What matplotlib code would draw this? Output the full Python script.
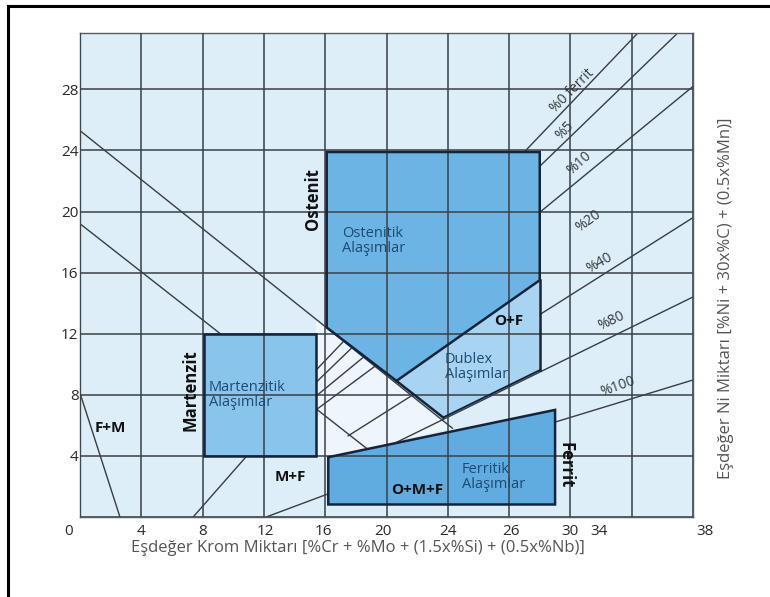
import matplotlib
matplotlib.use("Agg")
import matplotlib.pyplot as plt
from matplotlib.patches import Polygon
from matplotlib.lines import Line2D
import matplotlib.transforms as mtransforms

plt.rcParams['font.family'] = ['Open Sans', 'DejaVu Sans']

# ---------------- data ----------------
x_tick_labels = ["0", "4", "8", "12", "16", "20", "24", "26", "30", "34", "38"]
x_tick_values = [-0.75, 4.0, 8.0, 12.1, 15.9, 19.8, 24.0, 28.1, 32.0, 33.9, 40.8]
y_tick_values = [0, 4, 8, 12, 16, 20, 24, 28]
y_tick_labels = ["", "4", "8", "12", "16", "20", "24", "28"]

# regions (Cr eq, Ni eq)
austenite_x = [16.1, 30.0, 30.0, 20.65, 16.1]
austenite_y = [23.9, 23.9, 15.5, 8.9, 12.4]
duplex_x = [20.65, 30.0, 30.0, 23.7]
duplex_y = [8.9, 15.5, 9.6, 6.5]
martensite_x = [8.1, 15.4, 15.4, 8.1]
martensite_y = [4.0, 4.0, 12.0, 12.0]
ferrite_x = [16.2, 31.0, 31.0, 16.2]
ferrite_y = [0.8, 0.8, 7.0, 3.9]
mixed_x = [15.4, 24.3, 16.2, 15.4]
mixed_y = [12.9, 5.8, 3.9, 3.9]

# boundary lines
boundary_lines = {
    "a": ([0.0, 24.3], [25.3, 5.8]),
    "b": ([0.0, 18.8], [19.2, 4.4]),
    "c": ([0.0, 2.6], [8.1, 0.0]),
    "d": ([7.4, 10.9], [0.0, 4.0]),
    "e": ([12.2, 16.2], [0.0, 1.5]),
}

# iso-ferrite lines
ferrite_lines = {
    "%0 ferrit": ([15.4, 36.4], [9.6, 31.7]),
    "%5": ([15.4, 38.9], [8.8, 31.6]),
    "%10": ([15.4, 40.0], [7.9, 28.2]),
    "%20": ([15.4, 19.3], [7.0, 9.9]),
    "%40": ([17.5, 40.0], [5.3, 19.6]),
    "%80": ([20.5, 40.0], [4.8, 14.4]),
    "%100": ([31.0, 40.0], [6.2, 8.96]),
}
ferrite_label_pos = {
    "%0 ferrit": (32.1, 27.9, 45),
    "%5": (31.6, 25.3, 45),
    "%10": (32.6, 23.2, 42),
    "%20": (33.2, 19.4, 36),
    "%40": (33.9, 16.6, 30),
    "%80": (34.7, 12.8, 25),
    "%100": (35.1, 8.5, 20),
}

# ---------------- figure ----------------
fig = plt.figure(figsize=(7.70, 5.97), dpi=100)
fig.patch.set_facecolor("white")
ax = fig.add_axes([80 / 770, 1 - 516.7 / 597, (693 - 80) / 770, (516.7 - 33) / 597])
ax.set_xlim(0, 40)
ax.set_ylim(0, 31.7)
ax.set_facecolor("#ddeef8")

grid_c = "#3a4046"
line_c = "#383d42"
edge_c = "#15243a"

# light mixed zone
ax.add_patch(Polygon(list(zip(mixed_x, mixed_y)), closed=True, facecolor="#edf6fb",
                     edgecolor="none", zorder=0.5))

for k, (xs, ys) in boundary_lines.items():
    ax.plot(xs, ys, color=line_c, lw=1.0, zorder=1)
for k, (xs, ys) in ferrite_lines.items():
    ax.plot(xs, ys, color=line_c, lw=1.0, zorder=1)

# filled regions
ax.add_patch(Polygon(list(zip(austenite_x, austenite_y)), closed=True,
                     facecolor="#6cb4e4", edgecolor="none", zorder=1.5))
ax.add_patch(Polygon(list(zip(duplex_x, duplex_y)), closed=True,
                     facecolor="#a8d4f1", edgecolor="none", zorder=1.5))
ax.add_patch(Polygon(list(zip(martensite_x, martensite_y)), closed=True,
                     facecolor="#89c4ec", edgecolor="none", zorder=1.5))
ax.add_patch(Polygon(list(zip(ferrite_x, ferrite_y)), closed=True,
                     facecolor="#60abdf", edgecolor="none", zorder=1.5))

# region edges (above grid)
ax.add_patch(Polygon(list(zip(austenite_x, austenite_y)), closed=True,
                     facecolor="none", edgecolor=edge_c, lw=1.8, zorder=3))
ax.plot([duplex_x[1], duplex_x[2]], [duplex_y[1], duplex_y[2]], color=edge_c, lw=1.8, zorder=3)
ax.plot([duplex_x[0], duplex_x[3]], [duplex_y[0], duplex_y[3]], color=edge_c, lw=1.8, zorder=3)
ax.plot([duplex_x[2], duplex_x[3]], [duplex_y[2], duplex_y[3]], color=edge_c, lw=1.4, zorder=3)
ax.add_patch(Polygon(list(zip(martensite_x, martensite_y)), closed=True,
                     facecolor="none", edgecolor=edge_c, lw=1.8, zorder=3))
ax.add_patch(Polygon(list(zip(ferrite_x, ferrite_y)), closed=True,
                     facecolor="none", edgecolor=edge_c, lw=1.8, zorder=3))

# grid
ax.set_axisbelow(False)
ax.set_xticks(range(0, 41, 4))
ax.set_xticklabels([])
ax.set_yticks(y_tick_values)
ax.set_yticklabels(y_tick_labels)
ax.grid(True, color=grid_c, lw=1.1)
ax.tick_params(length=0, labelsize=11, labelcolor="#2a2a2a", pad=1)
for s in ax.spines.values():
    s.set_color("#555a60")
    s.set_linewidth(1.0)

# custom x tick labels
trans = mtransforms.blended_transform_factory(ax.transData, ax.transAxes)
for v, lab in zip(x_tick_values, x_tick_labels):
    ax.text(v, -0.03, lab, transform=trans, ha="center", va="center",
            fontsize=11, color="#2a2a2a", clip_on=False)

# ferrite labels
for lab, (x, y, r) in ferrite_label_pos.items():
    ax.text(x, y, lab, rotation=r, ha="center", va="center", fontsize=10,
            color="#33373c", zorder=4, rotation_mode="anchor")

# region labels
lab_c = "#1d4a72"
bold_kw = dict(ha="center", va="center", fontweight="bold", color="#111", zorder=4)
reg_kw = dict(ha="left", va="center", fontsize=10.5, color=lab_c, zorder=4, linespacing=1.0)
ax.text(15.2, 20.8, "Ostenit", rotation=90, fontsize=12, **bold_kw)
ax.text(17.1, 18.1, "Ostenitik\nAlaşımlar", **reg_kw)
ax.text(28.0, 12.8, "O+F", fontsize=11, **bold_kw)
ax.text(23.8, 9.8, "Dublex\nAlaşımlar", **reg_kw)
ax.text(7.2, 8.3, "Martenzit", rotation=90, fontsize=12, **bold_kw)
ax.text(8.4, 8.0, "Martenzitik\nAlaşımlar", **reg_kw)
ax.text(2.0, 5.8, "F+M", fontsize=11, **bold_kw)
ax.text(13.7, 2.6, "M+F", fontsize=11, **bold_kw)
ax.text(22.0, 1.75, "O+M+F", fontsize=11, **bold_kw)
ax.text(24.9, 2.6, "Ferritik\nAlaşımlar", **reg_kw)
ax.text(31.65, 3.4, "Ferrit", rotation=-90, fontsize=12, **bold_kw)

# axis titles
fig.text(358 / 770, 1 - 548 / 597,
         "Eşdeğer Krom Miktarı [%Cr + %Mo + (1.5x%Si) + (0.5x%Nb)]",
         ha="center", va="center", fontsize=12, color="#555")
fig.text(726 / 770, 1 - 298 / 597,
         "Eşdeğer Ni Miktarı [%Ni + 30x%C) + (0.5x%Mn)]",
         ha="center", va="center", rotation=90, fontsize=12, color="#555")

# outer frame (left and top edges)
fig.add_artist(Line2D([7.5 / 770, 7.5 / 770], [0, 1 - 6 / 597], color="black", lw=2.2,
                      transform=fig.transFigure))
fig.add_artist(Line2D([7.5 / 770, 1], [1 - 6 / 597, 1 - 6 / 597], color="black", lw=2.2,
                      transform=fig.transFigure))

fig.savefig("out.png", dpi=100)
